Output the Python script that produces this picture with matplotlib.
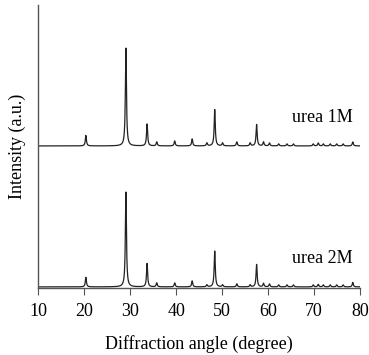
import numpy as np
import matplotlib
matplotlib.use("Agg")
import matplotlib.pyplot as plt

# peak positions (2theta, degree)
peak_pos = [20.4, 29.1, 33.7, 35.8, 39.7, 43.5, 46.7, 48.4, 50.1, 53.2,
            56.1, 57.5, 59.0, 60.3, 62.3, 64.1, 65.5, 69.8, 70.9, 72.0,
            73.5, 74.9, 76.3, 78.4]
# peak heights (a.u.) for each sample
height_1m = [10.5, 98, 22, 4, 5, 7, 3, 36.5, 3, 4,
             3, 21.5, 4, 3, 2, 2, 2, 2, 3, 2,
             2, 2, 2, 4]
height_2m = [9.5, 95, 23.5, 4, 4, 6, 2, 36, 2, 3,
             2, 22.5, 3.5, 3, 2, 2, 2, 2, 2.5, 2,
             2, 2, 2, 4.5]
offset_1m = 142
offset_2m = 1
labels = ["urea 1M", "urea 2M"]

plt.rcParams['font.family'] = ['Liberation Serif', 'DejaVu Serif']

two_theta = np.linspace(10, 80, 3500)


def pattern(heights, width=0.14):
    y = np.zeros_like(two_theta)
    for p, h in zip(peak_pos, heights):
        y += h / (1 + ((two_theta - p) / width) ** 2)
    return y


fig = plt.figure(figsize=(3.69, 3.55), dpi=100)
ax = fig.add_axes([0.103, 0.189, 0.873, 0.797])

ax.plot(two_theta, pattern(height_1m) + offset_1m, color='#222222', lw=0.9)
ax.plot(two_theta, pattern(height_2m) + offset_2m, color='#222222', lw=0.9)

ax.text(71.7, 170, labels[0], ha='center', va='center', fontsize=13)
ax.text(71.7, 29, labels[1], ha='center', va='center', fontsize=13)

ax.set_xlim(10, 80)
ax.set_ylim(0, 283)
ax.set_xticks(range(10, 81, 10))
ax.set_yticks([])
ax.tick_params(axis='x', direction='out', length=5, width=0.8, color='#555555',
               labelsize=13, pad=6)
for s in ['top', 'right']:
    ax.spines[s].set_visible(False)
for s in ['left', 'bottom']:
    ax.spines[s].set_color('#555555')
    ax.spines[s].set_linewidth(1.0)

ax.set_xlabel("Diffraction angle (degree)", fontsize=13, labelpad=11)
ax.set_ylabel("Intensity (a.u.)", fontsize=13, labelpad=9)

fig.savefig("out.png", dpi=100)
